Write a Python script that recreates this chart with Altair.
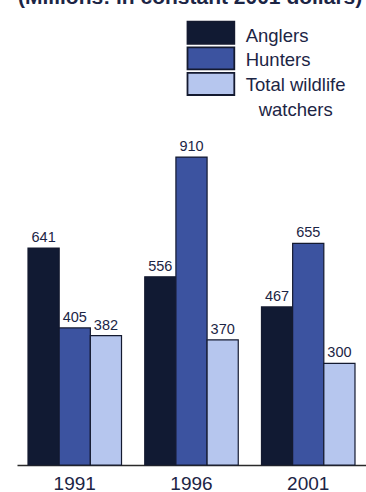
import altair as alt
import pandas as pd

# Spending by participant group (millions, constant 2001 dollars)
YEARS = ["1991", "1996", "2001"]
SERIES = ["Anglers", "Hunters", "Total wildlife watchers"]
ANGLERS = [641, 556, 467]
HUNTERS = [405, 910, 655]
WATCHERS = [382, 370, 300]
TITLE = "(Millions: in constant 2001 dollars)"

COLORS = ["#111a33", "#3c53a0", "#b6c6ee"]
INK = "#1c2545"
FONT = "Liberation Sans"

rows = []
for series, values in zip(SERIES, [ANGLERS, HUNTERS, WATCHERS]):
    for year, v in zip(YEARS, values):
        rows.append({"year": year, "series": series, "value": v})
df = pd.DataFrame(rows)

x_enc = alt.X(
    "year:N",
    sort=YEARS,
    scale=alt.Scale(paddingInner=0.199, paddingOuter=0.0943),
    axis=alt.Axis(
        title=None, labelAngle=0, ticks=False, tickSize=0, labelPadding=9,
        labelFontSize=19, labelColor=INK, labelFont=FONT,
        domainColor="#2a2a2a", domainWidth=1.6,
    ),
)
xo_enc = alt.XOffset("series:N", sort=SERIES,
                     scale=alt.Scale(paddingInner=0, paddingOuter=0))
y_enc = alt.Y("value:Q", scale=alt.Scale(domain=[0, 1374], nice=False), axis=None)
color_enc = alt.Color("series:N", sort=SERIES,
                      scale=alt.Scale(domain=SERIES, range=COLORS), legend=None)

bars = alt.Chart(df).mark_bar(stroke="#141a30", strokeWidth=1.2).encode(
    x=x_enc, xOffset=xo_enc, y=y_enc, color=color_enc
)

values = alt.Chart(df).mark_text(
    baseline="alphabetic", dy=-6, fontSize=14.5, font=FONT, color=INK
).encode(x=x_enc, xOffset=xo_enc, y=y_enc, text="value:Q")

# Hand-built legend in the upper right
legend_df = pd.DataFrame({
    "series": SERIES,
    "line1": [s.replace(" watchers", "") for s in SERIES],
})
legend_y = alt.Y("series:N", sort=SERIES,
                 scale=alt.Scale(domain=SERIES, range=[21.7, 95],
                                 paddingInner=0.14, paddingOuter=0),
                 axis=None)

legend_boxes = alt.Chart(legend_df).mark_rect(
    stroke="#141a30", strokeWidth=1.8
).encode(
    x=alt.value(170.5), x2=alt.value(217.3), y=legend_y, color=color_enc
)

legend_text = alt.Chart(legend_df).mark_text(
    align="left", baseline="alphabetic", dy=7.8, fontSize=18.5, font=FONT, color=INK
).encode(x=alt.value(228.7), y=legend_y, text="line1:N")

legend_cont = alt.Chart(
    legend_df[legend_df["series"] == "Total wildlife watchers"]
).mark_text(
    align="center", baseline="alphabetic", dy=33.3, fontSize=18.5, font=FONT, color=INK
).encode(x=alt.value(278.7), y=legend_y, text=alt.value("watchers"))

title = alt.Chart(pd.DataFrame({"t": [TITLE]})).mark_text(
    align="left", baseline="alphabetic", fontSize=21, fontWeight="bold",
    font=FONT, color=INK
).encode(x=alt.value(1), y=alt.value(3.5), text="t:N")

chart = alt.layer(
    bars, values, legend_boxes, legend_text, legend_cont, title
).resolve_scale(y="independent").properties(
    width=349,
    height=465,
    autosize=alt.AutoSizeParams(type="none"),
    padding={"left": 17, "top": 0, "right": 0, "bottom": 27},
    background="white",
).configure_view(stroke=None)

chart.save("out.html", embed_options={"renderer": "svg", "actions": False})
